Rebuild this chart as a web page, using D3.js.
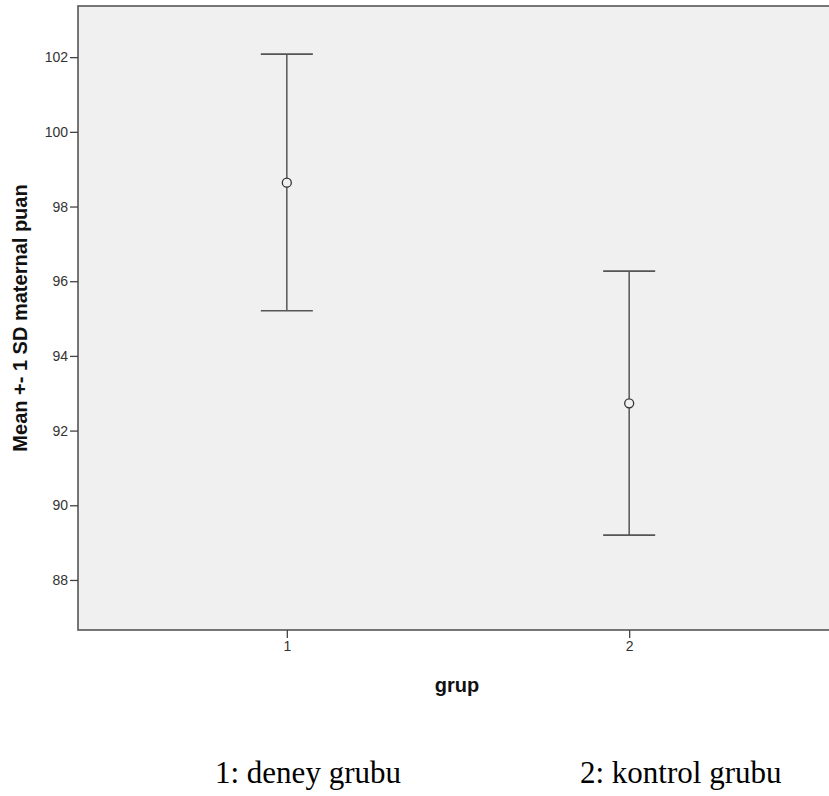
<!DOCTYPE html>
<html>
<head>
<meta charset="utf-8">
<script src="https://cdn.jsdelivr.net/npm/d3@7"></script>
<style>
  body { margin: 0; background: #fff; }
</style>
</head>
<body>
<div id="chart"></div>
<script>
// group means and +-1 SD
var groups = ["1", "2"]
var means = [98.64, 92.73]
var lower = [95.21, 89.20]
var upper = [102.08, 96.27]
var yTicks = [88, 90, 92, 94, 96, 98, 100, 102]
var notes = ["1: deney grubu", "2: kontrol grubu"]

var width = 829
var height = 796
var margin = ({ top: 6, right: -9, bottom: 166, left: 78 })

var svg = d3.select("#chart").append("svg")
  .attr("width", width)
  .attr("height", height)

var x = d3.scaleLinear()
  .domain([0.39, 2.61])
  .range([margin.left, width - margin.right])

var y = d3.scaleLinear()
  .domain([86.66, 103.37])
  .range([height - margin.bottom, margin.top])

// plot background
svg.append("rect")
  .attr("x", margin.left)
  .attr("y", margin.top)
  .attr("width", width - margin.right - margin.left)
  .attr("height", height - margin.bottom - margin.top)
  .attr("fill", "#f0f0f0")
  .attr("stroke", "#555")
  .attr("stroke-width", 1.6)

var tickFont = "14px 'Liberation Sans', Arial, sans-serif"

var yAxis = g => g
  .attr("transform", `translate(${margin.left},0)`)
  .call(d3.axisLeft(y).tickValues(yTicks).tickSize(8).tickPadding(2).tickSizeOuter(0))
  .call(g => g.select(".domain").remove())
  .call(g => g.selectAll(".tick line").attr("stroke", "#444").attr("stroke-width", 1.3))
  .call(g => g.selectAll(".tick text")
    .attr("fill", "#333")
    .style("font", tickFont))

var xAxis = g => g
  .attr("transform", `translate(0,${height - margin.bottom})`)
  .call(d3.axisBottom(x).tickValues([1, 2]).tickFormat(d => groups[d - 1]).tickSize(8).tickPadding(3).tickSizeOuter(0))
  .call(g => g.select(".domain").remove())
  .call(g => g.selectAll(".tick line").attr("stroke", "#444").attr("stroke-width", 1.3))
  .call(g => g.selectAll(".tick text")
    .attr("fill", "#333")
    .style("font", tickFont))

svg.append("g").call(yAxis)
svg.append("g").call(xAxis)

// error bars
var bars = svg.append("g")
  .attr("stroke", "#555")
  .attr("fill", "none")
  .selectAll("g")
  .data(groups)
  .join("g")

bars.append("line")
  .attr("x1", (d, i) => x(i + 1))
  .attr("x2", (d, i) => x(i + 1))
  .attr("y1", (d, i) => y(upper[i]))
  .attr("y2", (d, i) => y(lower[i]))
  .attr("stroke-width", 1.5)

bars.append("line")
  .attr("x1", (d, i) => x(i + 1 - 0.076))
  .attr("x2", (d, i) => x(i + 1 + 0.076))
  .attr("y1", (d, i) => y(upper[i]))
  .attr("y2", (d, i) => y(upper[i]))
  .attr("stroke-width", 1.6)

bars.append("line")
  .attr("x1", (d, i) => x(i + 1 - 0.076))
  .attr("x2", (d, i) => x(i + 1 + 0.076))
  .attr("y1", (d, i) => y(lower[i]))
  .attr("y2", (d, i) => y(lower[i]))
  .attr("stroke-width", 1.6)

bars.append("circle")
  .attr("cx", (d, i) => x(i + 1))
  .attr("cy", (d, i) => y(means[i]))
  .attr("r", 4.5)
  .attr("fill", "#f0f0f0")
  .attr("stroke", "#333")
  .attr("stroke-width", 1.3)

// axis titles
svg.append("text")
  .attr("transform", `translate(27,${(margin.top + height - margin.bottom) / 2}) rotate(-90)`)
  .attr("text-anchor", "middle")
  .style("font", "bold 20px 'Liberation Sans', Arial, sans-serif")
  .attr("fill", "#111")
  .text("Mean +- 1 SD maternal puan")

svg.append("text")
  .attr("x", 457)
  .attr("y", 692)
  .attr("text-anchor", "middle")
  .style("font", "bold 20px 'Liberation Sans', Arial, sans-serif")
  .attr("fill", "#111")
  .text("grup")

// group legend notes below the chart
svg.append("g")
  .selectAll("text")
  .data(notes)
  .join("text")
  .attr("x", (d, i) => [215, 580][i])
  .attr("y", 783)
  .style("font", "31px 'Liberation Serif', 'Times New Roman', serif")
  .attr("fill", "#000")
  .text(d => d)
</script>
</body>
</html>
